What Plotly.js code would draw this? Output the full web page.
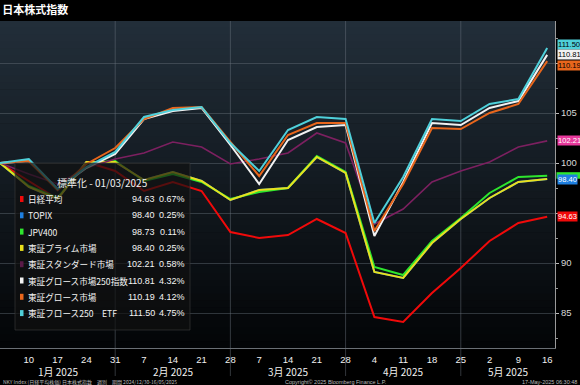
<!DOCTYPE html>
<html>
<head>
<meta charset="utf-8">
<script src="https://cdn.plot.ly/plotly-3.0.1.min.js"></script>
<style>
  html, body { margin: 0; padding: 0; background: #000; }
  #chart { width: 580px; height: 385px; }
</style>
</head>
<body>
<div id="chart"></div>
<script>
// ---------------- data ----------------
const dates = ['2025-01-03','2025-01-10','2025-01-17','2025-01-24','2025-01-31',
  '2025-02-07','2025-02-14','2025-02-21','2025-02-28',
  '2025-03-07','2025-03-14','2025-03-21','2025-03-28',
  '2025-04-04','2025-04-11','2025-04-18','2025-04-25',
  '2025-05-02','2025-05-09','2025-05-16'];
const tickLabels = ['10','17','24','31','7','14','21','28','7','14','21','28','4','11','18','25','2','9','16'];
const monthLabels = ['1月 2025','2月 2025','3月 2025','4月 2025','5月 2025'];
const monthBreaks = ['2025-01-31','2025-02-28','2025-03-28','2025-04-25'];
const yTickVals = [85, 90, 95, 100, 105, 110];
const yTickText = ['85', '90', '', '100', '105', ''];

const nikkei   = [100, 98.2, 96.4, 100.1, 99.2, 97.2, 98.1, 97.2, 93.1, 92.5, 92.8, 94.4, 93.0, 84.6, 84.1, 87.0, 89.5, 92.2, 94.0, 94.63];
const topix    = [100, 97.6, 96.4, 100.1, 100.1, 98.3, 99.1, 98.2, 96.3, 97.3, 97.5, 100.6, 99.0, 89.1, 88.5, 92.0, 94.4, 96.5, 98.1, 98.40];
const jpv400   = [100, 97.7, 96.5, 100.0, 100.2, 98.2, 98.9, 98.1, 96.4, 97.1, 97.5, 100.7, 99.1, 89.6, 88.8, 92.2, 94.5, 97.0, 98.6, 98.73];
const prime    = [100, 97.6, 96.4, 100.1, 100.1, 98.3, 99.1, 98.2, 96.3, 97.3, 97.5, 100.6, 99.0, 89.1, 88.5, 92.0, 94.4, 96.5, 98.1, 98.40];
const standard = [100, 98.9, 97.9, 99.5, 100.4, 101.0, 102.1, 101.6, 99.9, 100.4, 101.0, 103.0, 102.0, 93.9, 95.4, 98.1, 99.2, 100.1, 101.6, 102.21];
const growth250= [100, 100.2, 97.4, 99.5, 100.9, 104.4, 105.2, 105.5, 101.8, 97.9, 102.3, 103.6, 103.8, 92.7, 98.1, 104.0, 103.8, 105.5, 106.2, 110.81];
const growth   = [100, 100.2, 97.3, 99.9, 101.5, 104.4, 105.5, 105.6, 102.1, 98.7, 102.8, 104.0, 104.0, 93.2, 97.9, 103.5, 103.4, 105.0, 105.9, 110.19];
const etf250   = [100, 100.4, 97.4, 99.6, 101.1, 104.6, 105.3, 105.6, 102.0, 99.2, 103.3, 104.6, 104.4, 94.0, 98.6, 104.4, 104.2, 105.9, 106.4, 111.50];

const seriesNames = ['日経平均','TOPIX','JPV400','東証プライム市場','東証スタンダード市場','東証グロース市場250指数','東証グロース市場','東証フロース250　ETF'];
const lastValues  = ['94.63','98.40','98.73','98.40','102.21','110.81','110.19','111.50'];
const pctChanges  = ['0.67%','0.25%','0.11%','0.25%','0.58%','4.32%','4.12%','4.75%'];
const legendTitle = '標準化 - 01/03/2025';
const chartTitle  = '日本株式指数';
const footLeft    = 'NKY Index (日経平均株価) 日本株式指数　週別　期間 2024/12/30-16/05/2025';
const footMid     = 'Copyright© 2025 Bloomberg Finance L.P.';
const footRight   = '17-May-2025 06:30:48';

// ---------------- styling ----------------
const allSeries = [nikkei, topix, jpv400, prime, standard, growth250, growth, etf250];
const lineColors  = ['#f00a0a','#1e7fe0','#2ee62e','#e8e01c','#7c2060','#f2f2f2','#e8661c','#4fd0da'];
const markColors  = ['#f00a0a','#1e7fe0','#2ee62e','#e8e01c','#5a1a48','#f2f2f2','#e8661c','#4fd0da'];
const boxColors   = ['#f00a0a','#1e7fe0','#2ee62e','#e8e01c','#e8399c','#f2f2f2','#e8661c','#4fd0da'];
const boxText     = ['#fff','#fff','#fff','#000','#fff','#000','#000','#000'];
const lineWidths  = [2,2,2,2,1.6,2,2,2];

const NUMFONT = '"Liberation Sans",Arial,sans-serif';
const CJK = '"Noto Sans CJK JP","Noto Sans",sans-serif';

const PW = 555, PH = 327, PTOP = 21, PBOT = 348;
const px = v => v / PW;
const py = v => (PBOT - v) / PH;

const traces = allSeries.map((s, i) => ({
  type: 'scatter', mode: 'lines', x: dates, y: s, name: seriesNames[i],
  line: {color: lineColors[i], width: lineWidths[i]}, hoverinfo: 'skip', showlegend: false
}));

const shapes = [];
// background gradient bands
const N = 48, c0 = [34, 46, 57], c1 = [3, 5, 7];
for (let k = 0; k < N; k++) {
  const t = k / (N - 1);
  const c = c0.map((a, j) => Math.round(a + (c1[j] - a) * t));
  shapes.push({type: 'rect', xref: 'paper', yref: 'paper', x0: 0, x1: 1,
    y1: 1 - k / N, y0: 1 - (k + 1) / N - 0.002, line: {width: 0},
    fillcolor: `rgb(${c[0]},${c[1]},${c[2]})`, layer: 'below'});
}
// month separators
monthBreaks.forEach(d => shapes.push({type: 'line', xref: 'x', yref: 'paper', x0: d, x1: d,
  y0: py(376), y1: 1, line: {color: 'rgba(110,120,130,0.45)', width: 1}, layer: 'below'}));
// legend box
shapes.push({type: 'rect', xref: 'paper', yref: 'paper', x0: px(15), x1: px(190), y0: py(330), y1: py(163),
  fillcolor: 'rgba(16,16,16,0.68)', line: {color: 'rgba(60,60,60,0.6)', width: 1}, layer: 'above'});

const annotations = [];
// legend title
annotations.push({xref: 'paper', yref: 'paper', x: px(102), y: py(182), text: legendTitle, showarrow: false,
  xanchor: 'center', yanchor: 'middle', font: {family: CJK, size: 10, color: '#f0f0f0'}});
const rowY0 = 199, rowStep = 16.3;
seriesNames.forEach((n, i) => {
  const yy = py(rowY0 + i * rowStep);
  shapes.push({type: 'rect', xref: 'paper', yref: 'paper', x0: px(20), x1: px(23.5),
    y0: py(rowY0 + i * rowStep + 3), y1: py(rowY0 + i * rowStep - 3),
    fillcolor: markColors[i], line: {width: 0}, layer: 'above'});
  annotations.push({xref: 'paper', yref: 'paper', x: px(25.5), y: yy, text: n, showarrow: false,
    xanchor: 'left', yanchor: 'middle', font: {family: CJK, size: 8.6, color: '#f4f4f4'}});
  annotations.push({xref: 'paper', yref: 'paper', x: px(157), y: yy, text: lastValues[i], showarrow: false,
    xanchor: 'right', yanchor: 'middle', font: {family: NUMFONT, size: 9, color: '#f4f4f4'}});
  annotations.push({xref: 'paper', yref: 'paper', x: px(187), y: yy, text: pctChanges[i], showarrow: false,
    xanchor: 'right', yanchor: 'middle', font: {family: NUMFONT, size: 9, color: '#f4f4f4'}});
});
// green tag mostly hidden behind the blue one: only a sliver shows
shapes.push({type: 'rect', xref: 'paper', yref: 'y', x0: px(556.5), x1: px(581),
  y0: jpv400[jpv400.length - 1] - 0.3, y1: jpv400[jpv400.length - 1] + 0.35,
  fillcolor: boxColors[2], line: {width: 0}, layer: 'above'});
// right-side value tags
const tagOrder = [1, 0, 4, 7, 6, 5];
const tagShift = {7: 0.38, 6: -0.45};
tagOrder.forEach(i => {
  const s = allSeries[i];
  annotations.push({xref: 'paper', yref: 'y', x: px(556.5), y: s[s.length - 1] + (tagShift[i] || 0),
    text: lastValues[i], showarrow: false, xanchor: 'left', yanchor: 'middle',
    bgcolor: boxColors[i], borderpad: 0, font: {family: NUMFONT, size: 7.6, color: boxText[i]}});
});
// month labels (centered between separators)
const msOf = d => new Date(d + 'T00:00:00Z').getTime();
const rangeStart = '2025-01-03', rangeEndMs = msOf('2025-01-03') + 134.9 * 86400000;
const bounds = [msOf(rangeStart)].concat(monthBreaks.map(msOf)).concat([rangeEndMs]);
monthLabels.forEach((m, i) => {
  const mid = new Date((bounds[i] + bounds[i + 1]) / 2).toISOString();
  annotations.push({xref: 'x', yref: 'paper', x: mid, y: py(371), text: m, showarrow: false,
    xanchor: 'center', yanchor: 'middle', font: {family: CJK, size: 10, color: '#f0f0f0'}});
});
// footer
annotations.push({xref: 'paper', yref: 'paper', x: px(1), y: py(382), text: footLeft, showarrow: false,
  xanchor: 'left', yanchor: 'middle', font: {family: CJK, size: 5, color: '#bbbbbb'}});
annotations.push({xref: 'paper', yref: 'paper', x: px(336), y: py(382), text: footMid, showarrow: false,
  xanchor: 'center', yanchor: 'middle', font: {family: NUMFONT, size: 5.5, color: '#bbbbbb'}});
annotations.push({xref: 'paper', yref: 'paper', x: px(579), y: py(382), text: footRight, showarrow: false,
  xanchor: 'right', yanchor: 'middle', font: {family: NUMFONT, size: 5.5, color: '#bbbbbb'}});

const layout = {
  width: 580, height: 385,
  margin: {l: 0, r: 25, t: PTOP, b: 385 - PBOT, pad: 0},
  paper_bgcolor: '#000', plot_bgcolor: 'rgba(0,0,0,0)',
  title: {text: '<b>' + chartTitle + '</b>', x: 0.004, xanchor: 'left', xref: 'container',
    y: 1 - 10 / 385, yref: 'container', yanchor: 'middle',
    font: {family: CJK, size: 11, color: '#ffffff'}},
  showlegend: false,
  xaxis: {type: 'date', range: [rangeStart, new Date(rangeEndMs).toISOString()],
    tickmode: 'array', tickvals: dates.slice(1), ticktext: tickLabels,
    tickfont: {family: NUMFONT, size: 9.5, color: '#f0f0f0'},
    showgrid: false, zeroline: false, showline: true, linecolor: '#6a6f75', linewidth: 1,
    ticks: 'outside', ticklen: 3, tickcolor: 'rgba(0,0,0,0)', fixedrange: true},
  yaxis: {side: 'right', range: [81.5, 114.2], tickmode: 'array', tickvals: yTickVals, ticktext: yTickText,
    tickfont: {family: NUMFONT, size: 9.5, color: '#d8d8d8'},
    ticks: 'outside', ticklen: 3, tickcolor: '#bbbbbb',
    minor: {tickmode: 'array', tickvals: [82.5, 87.5, 92.5, 97.5, 102.5, 107.5, 112.5], ticks: 'outside', ticklen: 2, tickcolor: '#999', showgrid: false},
    showgrid: true, gridcolor: 'rgba(110,120,130,0.4)', gridwidth: 1, zeroline: false,
    showline: true, linecolor: '#9a9a9a', linewidth: 1, fixedrange: true},
  shapes: shapes,
  annotations: annotations
};

Plotly.newPlot('chart', traces, layout, {staticPlot: true, displayModeBar: false});
</script>
</body>
</html>
